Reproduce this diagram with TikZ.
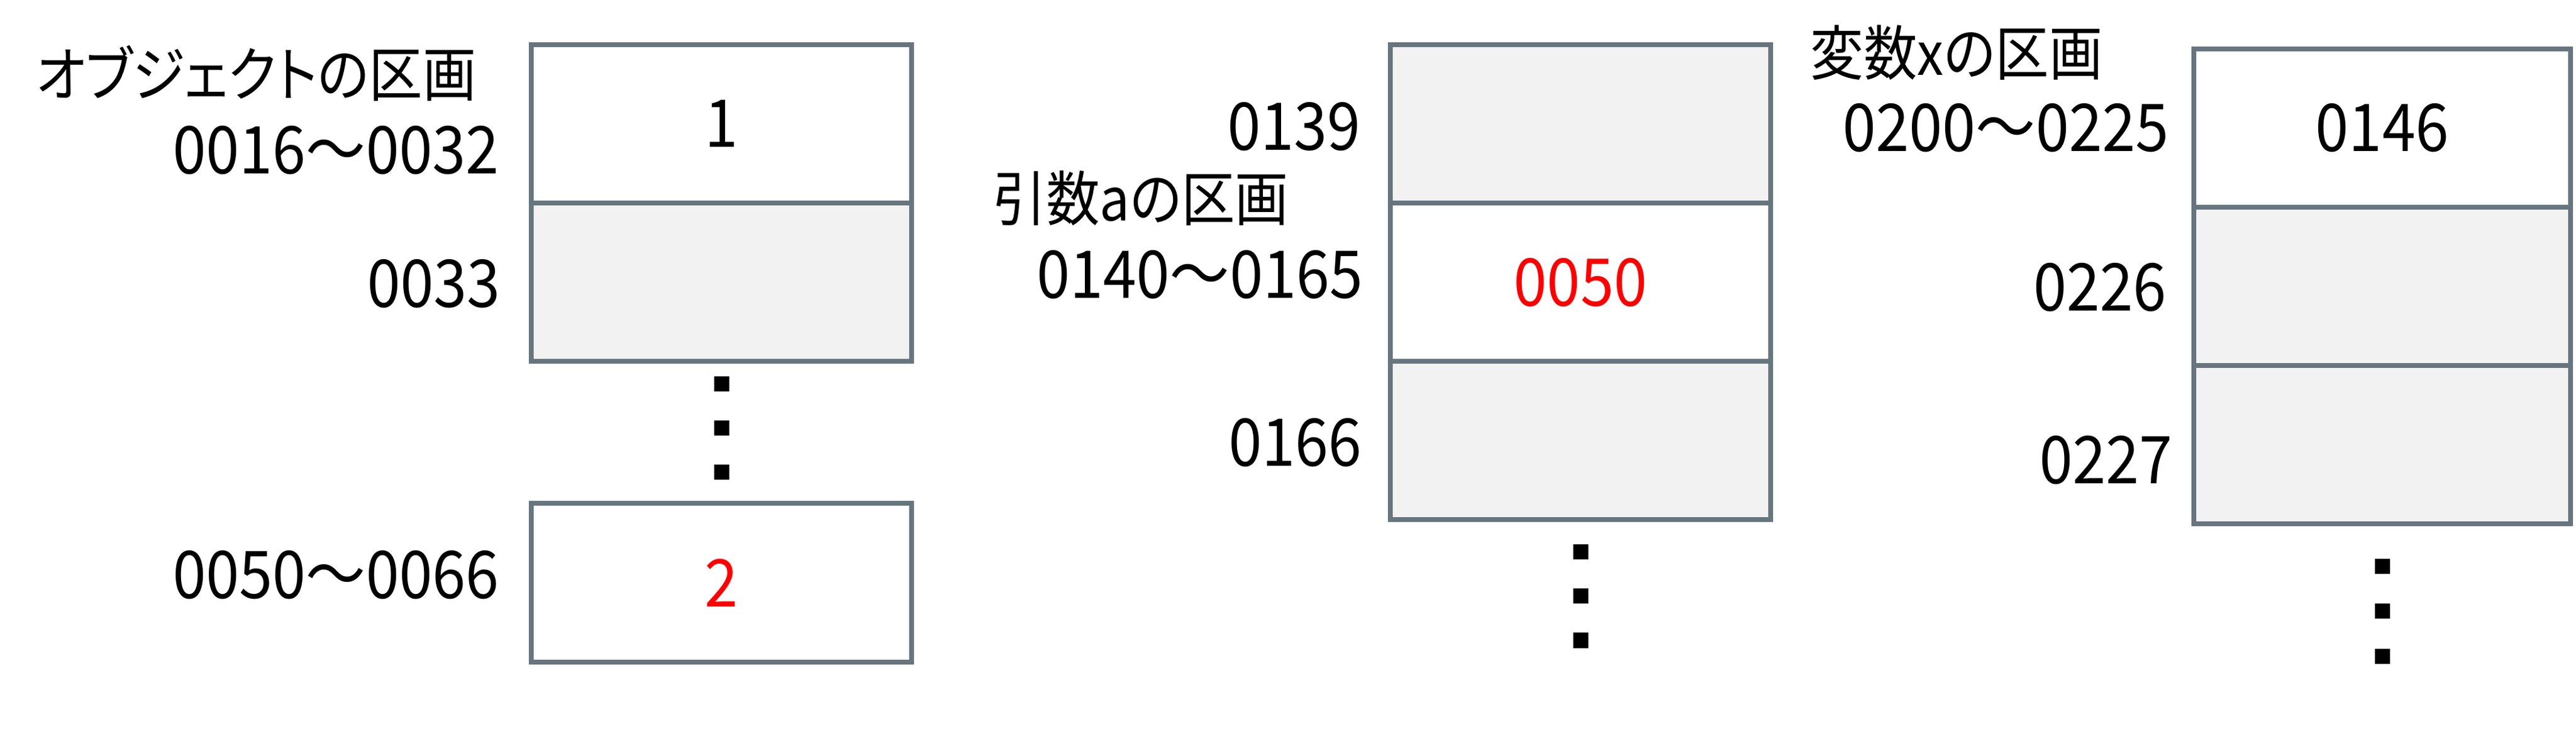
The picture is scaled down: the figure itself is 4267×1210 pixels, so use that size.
\documentclass[tikz,border=0pt]{standalone}
\usepackage{fontspec}
\setmainfont{Noto Sans CJK JP}[FakeStretch=0.91]
\newfontfamily\jpfont{Noto Sans CJK JP}[RawFeature=+palt, FakeStretch=0.9]
\usetikzlibrary{positioning}
\definecolor{cellgray}{RGB}{103,117,126}
\definecolor{cellfill}{RGB}{242,242,242}

\begin{document}
\begin{tikzpicture}[x=0.01cm, y=-0.01cm, node distance=0pt,
    cell/.style={rectangle, draw=cellgray, line width=0.08cm, outer sep=0pt,
                 minimum width=6.3cm, minimum height=2.62cm, inner sep=0pt,
                 font=\fontsize{31}{36}\selectfont},
    gcell/.style={fill=cellfill},
    lbl/.style={inner sep=0pt, font=\fontsize{31}{36}\selectfont},
    ttl/.style={inner sep=0pt, font=\fontsize{28}{34}\selectfont\jpfont},
    dotbox/.style={rectangle, fill=black, minimum size=0.25cm, inner sep=0pt, outer sep=0pt}]
    \useasboundingbox (0,0) rectangle (4267,1210);

    % object
    \node[cell]        (o1) at (1195,205) {1};
    \node[cell, gcell] (o2) [below=of o1] {};
    \node[dotbox] (od1) [below=0.25cm of o2] {};
    \node[dotbox] (od2) [below=0.48cm of od1] {};
    \node[dotbox] (od3) [below=0.48cm of od2] {};
    \node[cell]        (o3) [below=0.39cm of od3] {\color{red}2};

    \node[ttl, anchor=base west] (ot) at (59,160) {オブジェクトの区画};
    \node[lbl, anchor=base east] (oa1) at (827,288) {0016～0032};
    \node[lbl, anchor=base east] (oa2) at (829,509) {0033};
    \node[lbl, anchor=base east] (oa3) at (827,991) {0050～0066};

    % argument a
    \node[cell, gcell] (m1) at (2618,205) {};
    \node[cell]        (m2) [below=of m1] {\color{red}0050};
    \node[cell, gcell] (m3) [below=of m2] {};
    \node[dotbox] (md1) [below=0.41cm of m3] {};
    \node[dotbox] (md2) [below=0.48cm of md1] {};
    \node[dotbox] (md3) [below=0.48cm of md2] {};

    \node[lbl, anchor=base east] (ma1) at (2254,249) {0139};
    \node[ttl, anchor=base west] (mt) at (1644,366) {引数aの区画};
    \node[lbl, anchor=base east] (ma2) at (2258,494) {0140～0165};
    \node[lbl, anchor=base east] (ma3) at (2256,772) {0166};

    % variable x
    \node[cell, minimum width=6.24cm]        (r1) at (3946,212) {0146};
    \node[cell, minimum width=6.24cm, gcell] (r2) [below=of r1] {};
    \node[cell, minimum width=6.24cm, gcell] (r3) [below=of r2] {};
    \node[dotbox] (rd1) [below=0.58cm of r3] {};
    \node[dotbox] (rd2) [below=0.49cm of rd1] {};
    \node[dotbox] (rd3) [below=0.49cm of rd2] {};

    \node[ttl, anchor=base west] (rt) at (2998,125) {変数xの区画};
    \node[lbl, anchor=base east] (ra1) at (3593,251) {0200～0225};
    \node[lbl, anchor=base east] (ra2) at (3589,515) {0226};
    \node[lbl, anchor=base east] (ra3) at (3599,801) {0227};
\end{tikzpicture}
\end{document}
